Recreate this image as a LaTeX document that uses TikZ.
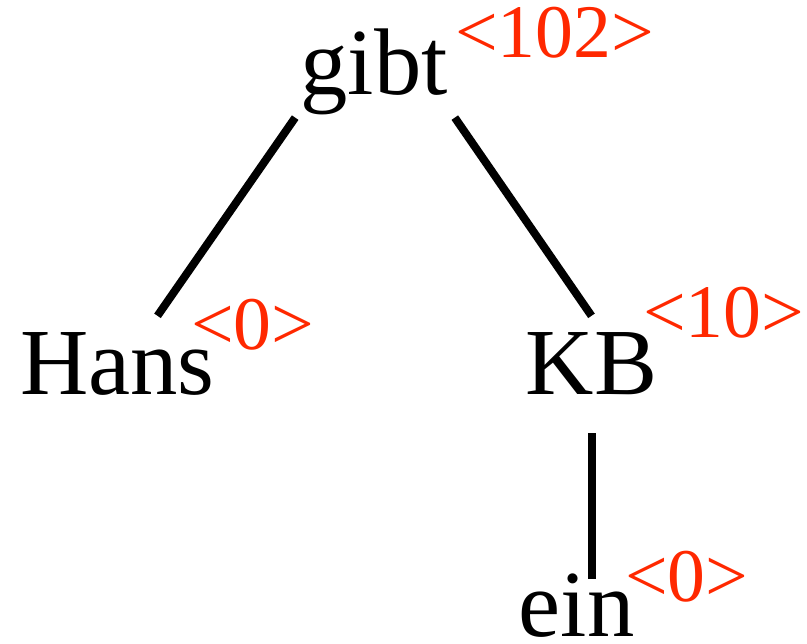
\documentclass[tikz,border=0pt]{standalone}
\usepackage{fontspec}
\setmainfont{Liberation Serif}
\usepackage{xcolor}
\usetikzlibrary{calc,positioning}
\definecolor{tagred}{RGB}{255,40,0}

\begin{document}
\begin{tikzpicture}[x=1bp,y=1bp,
    word/.style={inner sep=0pt, anchor=base, font=\fontsize{95}{95}\selectfont},
    tag/.style={inner sep=0pt, anchor=base west, text=tagred, font=\fontsize{76}{76}\selectfont},
    edge/.style={line width=8bp}]
    \useasboundingbox (0,0) rectangle (807,644);

    % Words
    \node[word] (gibt) at (374, 549) {gibt};
    \node[word] (hans) at (117.5, 249) {Hans};
    \node[word] (kb) at (591.5, 249) {KB};
    \node[word] (ein) at (576.5, 7) {ein};

    % Labels
    \node[tag] (gibtTag) at (455, 586) {<102>};
    \node[tag] (hansTag) at (191, 294) {<0>};
    \node[tag] (kbTag) at (643, 306) {<10>};
    \node[tag] (einTag) at (625, 42) {<0>};

    % Edges
    \draw[edge] ($(gibt.south west)+(-5,-2)$) -- ($(hans.north)+(40,17)$);
    \draw[edge] ($(gibt.south east)+(7,-2)$) -- ($(kb.north)+(0,17)$);
    \draw[edge] ($(kb.south)+(0,-38)$) -- ($(kb.south |- ein.north)+(0,-5)$);
\end{tikzpicture}
\end{document}
